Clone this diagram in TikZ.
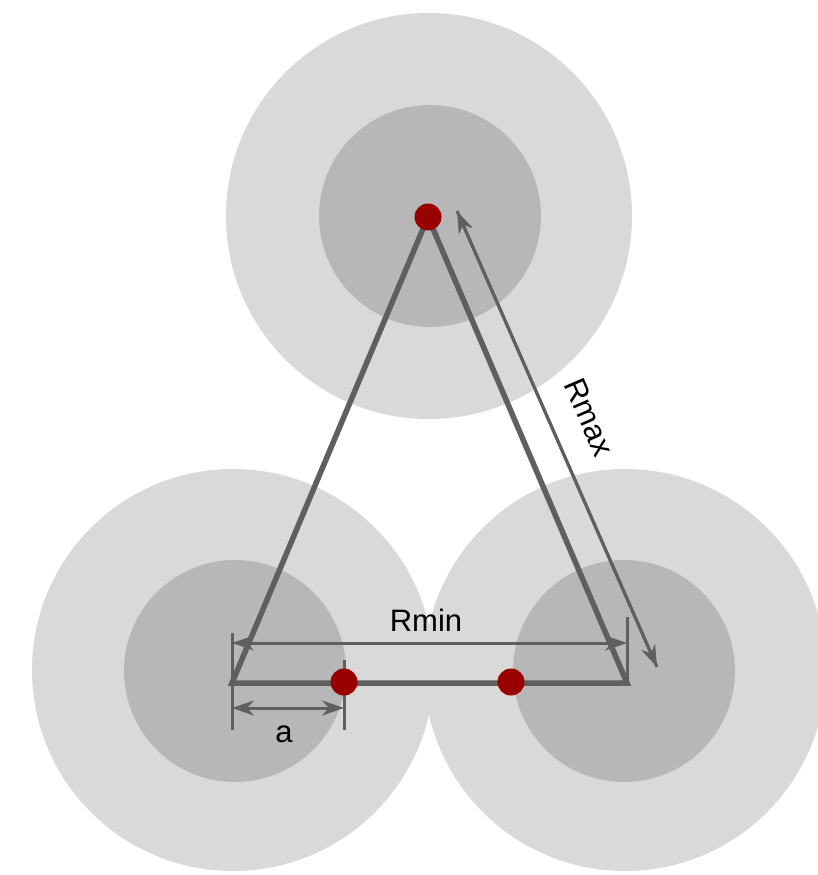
\documentclass[tikz,border=0pt]{standalone}
\usepackage{fontspec}
\setmainfont{Liberation Sans}
\usetikzlibrary{arrows.meta}
\definecolor{outerc}{HTML}{D9D9D9}
\definecolor{innerc}{HTML}{B7B7B7}
\definecolor{linec}{HTML}{5F5F5F}
\definecolor{dotc}{HTML}{990000}
\begin{document}
\begin{tikzpicture}[x=1pt,y=-1pt,
  outer/.style={fill=outerc},
  inner/.style={fill=innerc},
  tri/.style={draw=linec,line width=5.5pt,line join=miter},
  dim/.style={draw=linec,line width=3pt,{Stealth[length=22pt,width=15pt,inset=7pt]}-{Stealth[length=22pt,width=15pt,inset=7pt]}},
  ext/.style={draw=linec,line width=3pt},
  arr/.style={draw=linec,line width=3pt,-{Stealth[length=22pt,width=15pt,inset=7pt]}},
  dot/.style={circle,fill=dotc,minimum size=27pt,inner sep=0pt},
  lab/.style={font=\fontsize{31}{36}\selectfont,text=black,inner sep=0pt}]
\path[use as bounding box,fill=white] (0,0) rectangle (818,875);
% circles
\fill[outer] (429,216) circle[radius=203pt];
\fill[outer] (233,670) circle[radius=201pt];
\fill[outer] (625,670) circle[radius=201pt];
\fill[inner] (430,216) circle[radius=111pt];
\fill[inner] (235,671) circle[radius=111pt];
\fill[inner] (624,671) circle[radius=111pt];
% key points
\coordinate (T) at (428,217);
\coordinate (BL) at (232,683);
\coordinate (BR) at (627,683);
\coordinate (P1) at (344,682);
\coordinate (P2) at (511,682);
% extension line ends
\coordinate (eL1) at (232,633);
\coordinate (eL2) at (232,730);
\coordinate (eR1) at (627,617);
\coordinate (eR2) at (627,686);
\coordinate (eA1) at (344,660);
\coordinate (eA2) at (344,730);
\coordinate (rmL) at (232,643);
\coordinate (rmR) at (627,643);
\coordinate (aL) at (232,708);
\coordinate (aR) at (344,708);
\coordinate (RxB) at (657,667);
\coordinate (RxT) at (457,211);
% triangle
\draw[tri] (T) -- (BR) -- (BL) -- cycle;
% extension lines
\draw[ext] (eL1) -- (eL2);
\draw[ext] (eR1) -- (eR2);
\draw[ext] (eA1) -- (eA2);
% dimension lines
\draw[dim] (rmL) -- (rmR);
\draw[dim] (aL) -- (aR);
\draw[arr] (RxB) -- (RxT);
\draw[arr] (RxT) -- (RxB);
% dots
\node[dot] (dT) at (T) {};
\node[dot] (d1) at (P1) {};
\node[dot] (d2) at (P2) {};
% labels
\node[lab] (lRmin) at (426,620) {Rmin};
\node[lab] (la) at (284,734) {a};
\node[lab,rotate=-66.5] (lRmax) at (589,417) {Rmax};
\end{tikzpicture}
\end{document}
